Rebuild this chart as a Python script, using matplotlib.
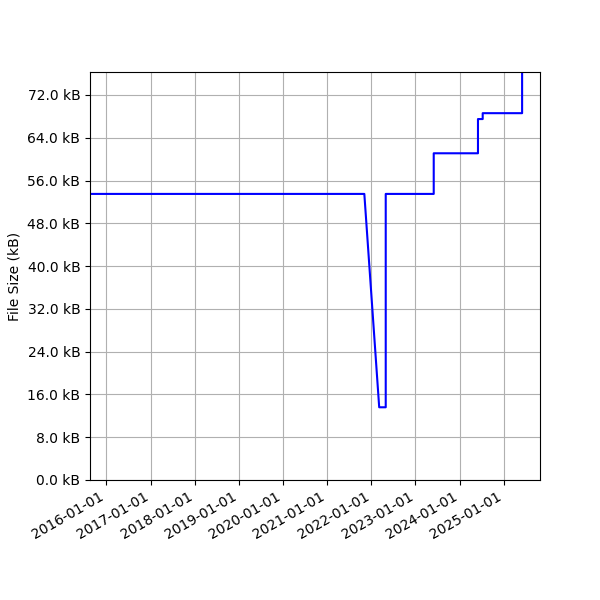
import numpy as np
import pandas as pd
import matplotlib
matplotlib.use("Agg")
import matplotlib.pyplot as plt
import matplotlib.dates as mdates
from matplotlib.ticker import FuncFormatter, MultipleLocator

# file size history (kB)
dates = pd.to_datetime([
    "2015-06-01", "2021-11-04", "2022-03-07", "2022-04-30", "2022-04-30",
    "2023-06-01", "2023-06-01", "2024-06-01", "2024-06-01", "2024-07-10",
    "2024-07-10", "2025-06-01", "2025-06-01",
])
sizes = [
    53.5, 53.5, 13.6, 13.6, 53.5,
    53.5, 61.1, 61.1, 67.5, 67.5,
    68.6, 68.6, 90.0,
]

fig, ax = plt.subplots(figsize=(6, 6), dpi=100)
ax.plot(dates, sizes, color="blue")

ax.set_xlim(pd.Timestamp("2015-08-19"), pd.Timestamp("2025-10-27"))
ax.set_ylim(0, 76.3)
ax.yaxis.set_major_locator(MultipleLocator(8))
ax.yaxis.set_major_formatter(FuncFormatter(lambda v, p: f"{v:.1f} kB"))
ax.xaxis.set_major_locator(mdates.YearLocator())
ax.xaxis.set_major_formatter(mdates.DateFormatter("%Y-%m-%d"))
ax.set_ylabel("File Size (kB)")
ax.grid(True)

fig.autofmt_xdate()
fig.subplots_adjust(left=0.15, right=0.9, top=0.88, bottom=0.2)
fig.savefig("out.png")
